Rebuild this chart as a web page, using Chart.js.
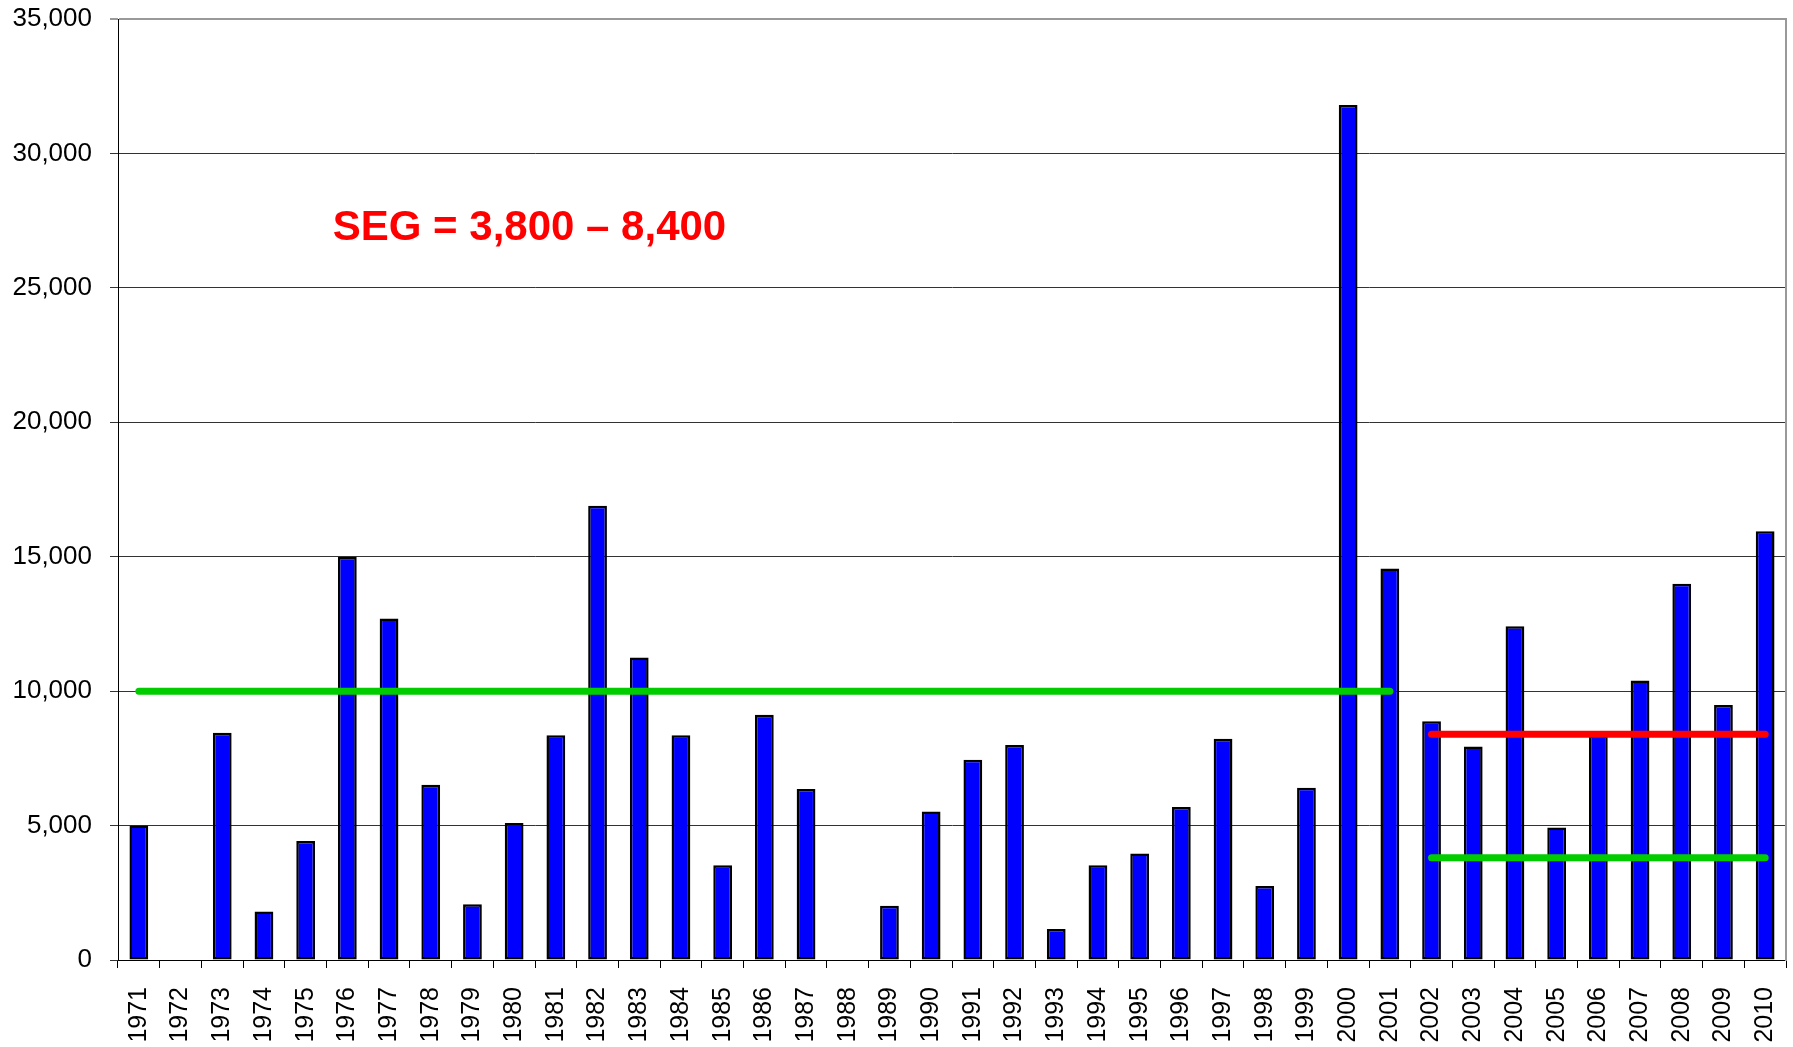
<!DOCTYPE html>
<html>
<head>
<meta charset="utf-8">
<script src="https://cdn.jsdelivr.net/npm/chart.js@4.4.1/dist/chart.umd.min.js"></script>
<style>
  html, body { margin: 0; padding: 0; background: #fff; }
  #wrap { width: 1793px; height: 1047px; position: relative; }
</style>
</head>
<body>
<div id="wrap"><canvas id="segChart"></canvas></div>
<script>
// categories
const years = ['1971','1972','1973','1974','1975','1976','1977','1978','1979','1980',
               '1981','1982','1983','1984','1985','1986','1987','1988','1989','1990',
               '1991','1992','1993','1994','1995','1996','1997','1998','1999','2000',
               '2001','2002','2003','2004','2005','2006','2007','2008','2009','2010'];

// yearly values (1972 and 1988 are empty)
const counts = [5000, 0, 8450, 1800, 4430, 15000, 12700, 6520, 2070, 5100,
                8360, 16900, 11250, 8360, 3520, 9120, 6360, 0, 2020, 5520,
                7450, 8000, 1150, 3520, 3960, 5690, 8230, 2750, 6410, 31800,
                14560, 8880, 7940, 12410, 4930, 8350, 10400, 13990, 9480, 15950];

// y axis ticks
const yTicks = [0, 5000, 10000, 15000, 20000, 25000, 30000, 35000];

// reference lines
const oldGoal = 10000;
const oldGoalYears = ['1971', '2001'];
const segLow = 3800;
const segHigh = 8400;
const segYears = ['2002', '2010'];
const segText = 'SEG = 3,800 \u2013 8,400';

function levelLine(value, range) {
  const a = years.indexOf(range[0]), b = years.indexOf(range[1]);
  return years.map((y, i) => (i >= a && i <= b) ? value : null);
}

const FONT = "'Liberation Sans', Arial, sans-serif";

const segLabel = {
  id: 'segLabel',
  afterDatasetsDraw(chart) {
    const { ctx, scales } = chart;
    const x = scales.x.getPixelForValue(4.65);
    const y = scales.y.getPixelForValue(27200);
    ctx.save();
    ctx.font = "bold 42px " + FONT;
    ctx.fillStyle = '#ff0000';
    ctx.textAlign = 'left';
    ctx.textBaseline = 'middle';
    ctx.fillText(segText, x, y);
    ctx.restore();
  }
};

const lineStyle = {
  type: 'line',
  borderWidth: 7,
  borderCapStyle: 'round',
  pointRadius: 0,
  fill: false,
  spanGaps: false,
  order: 0
};

function noSidePad(scale) {
  scale.paddingLeft = 0;
  scale.paddingRight = 0;
  scale.paddingTop = 0;
  scale.paddingBottom = 0;
}

new Chart(document.getElementById('segChart').getContext('2d'), {
  type: 'bar',
  data: {
    labels: years,
    datasets: [
      Object.assign({ data: levelLine(oldGoal, oldGoalYears), borderColor: '#00cc00' }, lineStyle),
      Object.assign({ data: levelLine(segHigh, segYears), borderColor: '#ff0000' }, lineStyle),
      Object.assign({ data: levelLine(segLow, segYears), borderColor: '#00cc00' }, lineStyle),
      {
        type: 'bar',
        data: counts,
        backgroundColor: '#0000ff',
        borderColor: '#000000',
        borderWidth: 2.5,
        borderSkipped: false,
        categoryPercentage: 1,
        barPercentage: 0.45,
        order: 1
      }
    ]
  },
  options: {
    responsive: true,
    maintainAspectRatio: false,
    animation: false,
    layout: { padding: { top: 19, right: 0, left: 0, bottom: 0 } },
    plugins: {
      legend: { display: false },
      tooltip: { enabled: false }
    },
    scales: {
      x: {
        offset: true,
        grid: { offset: true, drawOnChartArea: false, drawTicks: true, tickLength: 8, color: '#000', lineWidth: 1 },
        border: { color: '#000', width: 1 },
        ticks: {
          autoSkip: false,
          minRotation: 90,
          maxRotation: 90,
          padding: 19,
          color: '#000',
          font: { family: FONT, size: 25 }
        },
        afterFit(scale) { scale.height = 87; noSidePad(scale); }
      },
      y: {
        min: 0,
        max: 35000,
        afterBuildTicks(scale) { scale.ticks = yTicks.map(v => ({ value: v })); },
        grid: {
          color: ctx => ctx.tick && ctx.tick.value === 35000 ? '#999' : '#333',
          lineWidth: ctx => ctx.tick && ctx.tick.value === 35000 ? 2 : 1,
          tickLength: 8
        },
        border: { color: '#000', width: 1 },
        ticks: {
          padding: 18,
          color: '#000',
          font: { family: FONT, size: 26 },
          callback: v => v.toLocaleString('en-US')
        },
        afterFit(scale) { scale.width = 118; noSidePad(scale); }
      },
      yRight: {
        position: 'right',
        min: 0,
        max: 35000,
        grid: { drawOnChartArea: false, drawTicks: false },
        border: { color: '#999', width: 2 },
        ticks: { display: false },
        afterFit(scale) { scale.width = 7; noSidePad(scale); }
      }
    }
  },
  plugins: [segLabel]
});
</script>
</body>
</html>
